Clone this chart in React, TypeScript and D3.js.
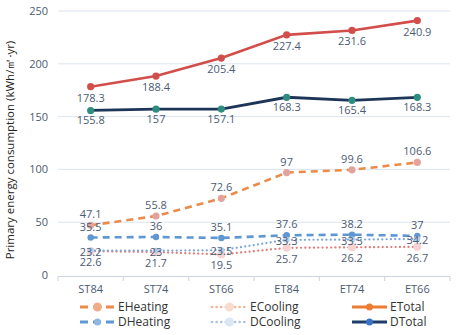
import React from "react";
import * as d3 from "d3";

const categories = ["ST84", "ST74", "ST66", "ET84", "ET74", "ET66"];
const yTicks = [0, 50, 100, 150, 200, 250];
const eHeating = [47.1, 55.8, 72.6, 97, 99.6, 106.6];
const eCooling = [22.6, 21.7, 19.5, 25.7, 26.2, 26.7];
const eTotal = [178.3, 188.4, 205.4, 227.4, 231.6, 240.9];
const dHeating = [35.5, 36, 35.1, 37.6, 38.2, 37];
const dCooling = [23.2, 23, 23.5, 33.3, 33.5, 34.2];
const dTotal = [155.8, 157, 157.1, 168.3, 165.4, 168.3];

type S = {
  name: string;
  values: number[];
  stroke: string;
  width: number;
  dash: string;
  cap: string;
  marker: string;
  r: number;
  labelDy: number;
  legendStroke: string;
  legendMarker: string;
  legendR: number;
};

const series: S[] = [
  { name: "EHeating", values: eHeating, stroke: "#ec8a4a", width: 2.6, dash: "7 5", cap: "butt", marker: "#e4a29c", r: 3.6, labelDy: -7, legendStroke: "#ec8a4a", legendMarker: "#efae8a", legendR: 4.5 },
  { name: "ECooling", values: eCooling, stroke: "#e27a78", width: 2.2, dash: "0.1 4.2", cap: "round", marker: "#f6d3d2", r: 4, labelDy: 15, legendStroke: "#f3b594", legendMarker: "#f8dccf", legendR: 4.5 },
  { name: "ETotal", values: eTotal, stroke: "#d24e4a", width: 2.6, dash: "", cap: "butt", marker: "#d24e4a", r: 3.6, labelDy: 15, legendStroke: "#ec7d32", legendMarker: "#ec7d32", legendR: 3.5 },
  { name: "DHeating", values: dHeating, stroke: "#5f97d2", width: 2.6, dash: "7 5", cap: "butt", marker: "#5f97d2", r: 3.2, labelDy: -7, legendStroke: "#5f97d2", legendMarker: "#8db6e2", legendR: 3.5 },
  { name: "DCooling", values: dCooling, stroke: "#7ea4da", width: 2.2, dash: "0.1 4.2", cap: "round", marker: "#b5cdea", r: 3, labelDy: 5, legendStroke: "#a8c3e6", legendMarker: "#dbe7f5", legendR: 4.5 },
  { name: "DTotal", values: dTotal, stroke: "#1d3657", width: 2.8, dash: "", cap: "butt", marker: "#2f8d80", r: 3.6, labelDy: 14, legendStroke: "#1d3d6b", legendMarker: "#3a74c6", legendR: 3.5 },
];

const legendOrder = ["EHeating", "ECooling", "ETotal", "DHeating", "DCooling", "DTotal"];

export default function App() {
  const W = 459, H = 335;
  const x0 = 58, x1 = 450;
  const x = d3.scaleBand<string>().domain(categories).range([x0, x1]);
  const y = d3.scaleLinear().domain([0, 250]).range([275, 11]);
  const cx = (c: string) => (x(c) as number) + x.bandwidth() / 2;
  const line = d3.line<number>().x((_, i) => cx(categories[i])).y((v) => y(v));
  const font = "'Open Sans', 'Noto Sans', sans-serif";
  const tickCol = "#4b5b72";

  const legendCols = [80, 212, 352];
  const legendRows = [307, 322];

  return (
    <svg width={W} height={H} style={{ position: "absolute", left: 0, top: 0, background: "#fff" }} fontFamily={font}>
      {yTicks.map((t) =>
        t === 0 ? null : (
          <line key={"g" + t} x1={x0} x2={x1} y1={y(t)} y2={y(t)} stroke="#dbe4f0" strokeWidth={1} />
        )
      )}
      {yTicks.map((t) => (
        <text key={"t" + t} x={48} y={y(t) + 4} textAnchor="end" fontSize={11} fill={tickCol}>
          {t}
        </text>
      ))}
      <line x1={x0} x2={x1} y1={y(0) + 1.5} y2={y(0) + 1.5} stroke="#c9d4e4" strokeWidth={1.2} />
      {d3.range(categories.length + 1).map((i) => {
        const xx = x0 + i * x.bandwidth();
        return <line key={"k" + i} x1={xx} x2={xx} y1={y(0) + 1.5} y2={y(0) + 6} stroke="#c9d4e4" strokeWidth={1} />;
      })}
      {categories.map((c) => (
        <text key={c} x={cx(c)} y={293} textAnchor="middle" fontSize={11} fill={tickCol}>
          {c}
        </text>
      ))}
      <text transform="translate(14,150) rotate(-90)" textAnchor="middle" fontSize={11.5} fill="#222">
        Primary energy consumption (kWh/㎡·yr)
      </text>

      {series.map((s) => (
        <g key={s.name}>
          <path d={line(s.values) || ""} fill="none" stroke={s.stroke} strokeWidth={s.width} strokeDasharray={s.dash || undefined} strokeLinecap={s.cap as any} />
          {s.values.map((v, i) => (
            <circle key={i} cx={cx(categories[i])} cy={y(v)} r={s.r} fill={s.marker} />
          ))}
        </g>
      ))}
      {series.map((s) => (
        <g key={"l" + s.name}>
          {s.values.map((v, i) => (
            <text key={i} x={cx(categories[i])} y={y(v) + s.labelDy} textAnchor="middle" fontSize={11} fill={tickCol}>
              {v}
            </text>
          ))}
        </g>
      ))}

      {legendOrder.map((n, k) => {
        const s = series.find((q) => q.name === n)!;
        const lx = legendCols[k % 3];
        const ly = legendRows[Math.floor(k / 3)];
        return (
          <g key={"lg" + n}>
            <line x1={lx} x2={lx + 35} y1={ly} y2={ly} stroke={s.legendStroke} strokeWidth={s.width + 0.4} strokeDasharray={s.dash ? (s.cap === "round" ? "0.1 4.5" : "8 5") : undefined} strokeLinecap={s.cap as any} />
            <circle cx={lx + 17.5} cy={ly} r={s.legendR} fill={s.legendMarker} />
            <text x={lx + 38} y={ly + 4} fontSize={12} fill="#333">
              {n}
            </text>
          </g>
        );
      })}
    </svg>
  );
}
